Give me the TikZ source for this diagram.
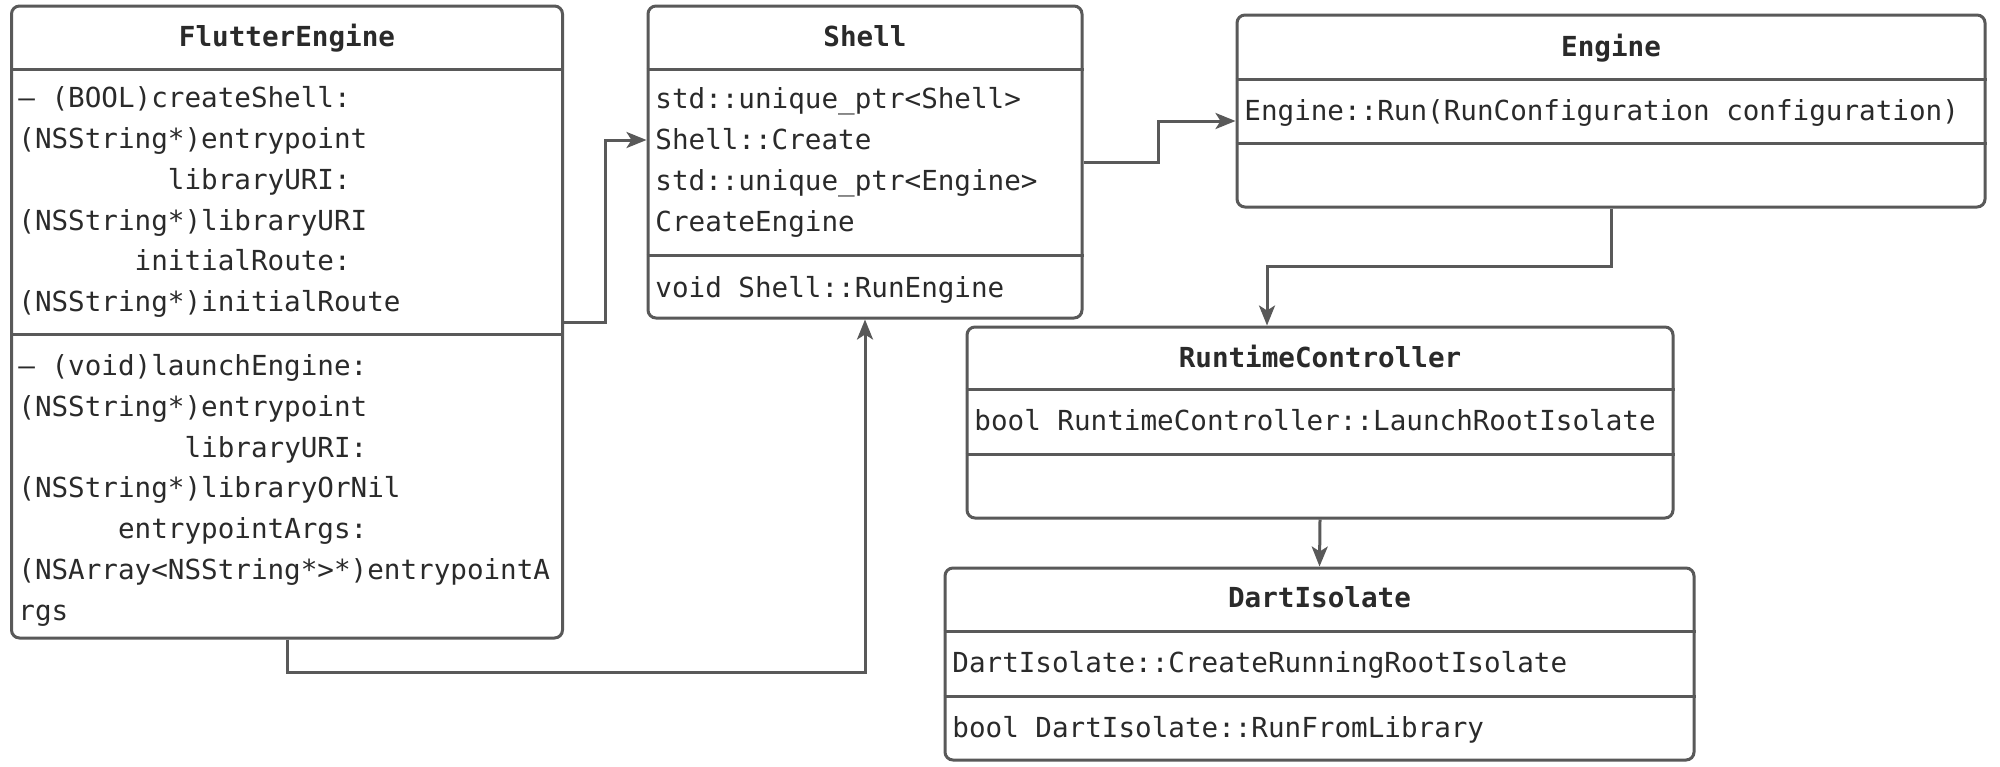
\documentclass[tikz,border=0pt]{standalone}
\usepackage{fontspec}
\setmonofont{DejaVu Sans Mono}
\usetikzlibrary{arrows.meta}
\definecolor{edge}{HTML}{595959}
\definecolor{ink}{HTML}{2A2A2A}
% leading blanks measured in character cells of the mono font
\newcommand\cells[1]{\hspace*{#1\fontcharwd\font`\0}}
\begin{document}
\begin{tikzpicture}[x=0.5pt,y=-0.5pt,
  umlbox/.style={draw=edge, line width=1.5pt, rounded corners=4pt, fill=white, inner sep=0pt},
  divider/.style={draw=edge, line width=1.5pt},
  title/.style={font=\ttfamily\bfseries\fontsize{13.8pt}{20pt}\selectfont, text=ink, anchor=base, inner sep=0pt},
  txt/.style={font=\ttfamily\fontsize{13.8pt}{20pt}\selectfont, text=ink, anchor=base west, inner sep=0pt},
  link/.style={draw=edge, line width=1.5pt, -{Stealth[length=10pt,width=8pt,inset=2.5pt]}}]

\useasboundingbox[fill=white] (0,0) rectangle (2000,766);

% class boxes
\node[umlbox, minimum width=275.5pt, minimum height=316pt] (fe) at (287,322) {};
\node[umlbox, minimum width=217pt, minimum height=156pt] (shell) at (865,162) {};
\node[umlbox, minimum width=374pt, minimum height=96pt] (engine) at (1611,111) {};
\node[umlbox, minimum width=353pt, minimum height=95.5pt] (runtime) at (1320,422.5) {};
\node[umlbox, minimum width=374.5pt, minimum height=96pt] (dart) at (1319.5,664) {};

% compartment dividers
\draw[divider] (fe.west |- 0,69) -- (fe.east |- 0,69);
\draw[divider] (fe.west |- 0,334) -- (fe.east |- 0,334);
\draw[divider] (shell.west |- 0,69) -- (shell.east |- 0,69);
\draw[divider] (shell.west |- 0,255) -- (shell.east |- 0,255);
\draw[divider] (engine.west |- 0,79) -- (engine.east |- 0,79);
\draw[divider] (engine.west |- 0,143) -- (engine.east |- 0,143);
\draw[divider] (runtime.west |- 0,389) -- (runtime.east |- 0,389);
\draw[divider] (runtime.west |- 0,454) -- (runtime.east |- 0,454);
\draw[divider] (dart.west |- 0,631) -- (dart.east |- 0,631);
\draw[divider] (dart.west |- 0,696) -- (dart.east |- 0,696);

% titles
\node[title] (feT) at (287,46) {FlutterEngine};
\node[title] (shellT) at (865,46) {Shell};
\node[title] (engineT) at (1611,56) {Engine};
\node[title] (runtimeT) at (1320,367) {RuntimeController};
\node[title] (dartT) at (1319.5,607) {DartIsolate};

% FlutterEngine members
\node[txt] (fe1) at (18,107) {– (BOOL)createShell:};
\node[txt] (fe2) at (18,148) {(NSString*)entrypoint};
\node[txt] (fe3) at (18,189) {\cells{9}libraryURI:};
\node[txt] (fe4) at (18,230) {(NSString*)libraryURI};
\node[txt] (fe5) at (18,270) {\cells{7}initialRoute:};
\node[txt] (fe6) at (18,311) {(NSString*)initialRoute};
\node[txt] (fe7) at (18,375) {– (void)launchEngine:};
\node[txt] (fe8) at (18,416) {(NSString*)entrypoint};
\node[txt] (fe9) at (18,457) {\cells{10}libraryURI:};
\node[txt] (fe10) at (18,497) {(NSString*)libraryOrNil};
\node[txt] (fe11) at (18,538) {\cells{6}entrypointArgs:};
\node[txt] (fe12) at (18,579) {(NSArray<NSString*>*)entrypointA};
\node[txt] (fe13) at (18,620) {rgs};

% Shell members
\node[txt] (sh1) at (655,108) {std::unique\_ptr<Shell>};
\node[txt] (sh2) at (655,149) {Shell::Create};
\node[txt] (sh3) at (655,190) {std::unique\_ptr<Engine>};
\node[txt] (sh4) at (655,231) {CreateEngine};
\node[txt] (sh5) at (655,297) {void Shell::RunEngine};

% Engine member
\node[txt] (en1) at (1244,120) {Engine::Run(RunConfiguration configuration)};

% RuntimeController member
\node[txt] (rc1) at (974,430) {bool RuntimeController::LaunchRootIsolate};

% DartIsolate members
\node[txt] (di1) at (952,672) {DartIsolate::CreateRunningRootIsolate};
\node[txt] (di2) at (952,737) {bool DartIsolate::RunFromLibrary};

% call connectors
\coordinate (k1) at (605,140);
\draw[link] (fe.east) -| (k1) -- (shell.west |- k1);

\coordinate (k2) at (0,672);
\draw[link] (fe.south) |- (shell.south |- k2) -- (shell.south);

\coordinate (k3) at (1158,121);
\draw[link] (shell.east) -| (k3) -- (engine.west |- k3);

\coordinate (k4) at (1267,266);
\draw[link] (engine.south) |- (k4) -- (k4 |- runtime.north);

\draw[link] (runtime.south) -- (dart.north);
\end{tikzpicture}
\end{document}
